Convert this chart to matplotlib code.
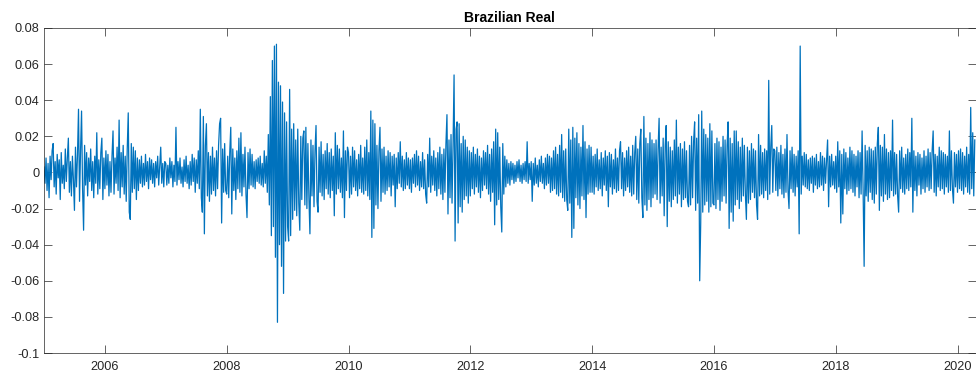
import numpy as np
import matplotlib
matplotlib.use("Agg")
import matplotlib.pyplot as plt

# daily log-returns of BRL, thinned, in thousandths (1 = 0.001)
r2005 = [3, -6, 8, -10, 5, -14, 9, -4, 12, 16, -8, 6, -12, 10, -3, 7, -15, 11, -6, 4,
         -9, 13, -5, 8, 19, -11, 6, -13, 9, -4, -21, 14, -8, 10, 35, -16, 12, 34, -9, -32,
         15, -7, 11, -13, 8, -5, 13, -10, 6, -14, 9, -6, 22, -12, 7, -9, 11, 19, -15, 8]
r2006 = [-9, 12, -7, 10, -13, 6, -11, 9, 23, -12, 8, -6, 14, -10, 29, -14, 11, -8, 15, -12,
         9, -16, 13, 33, -22, -26, 16, -11, 14, -9, 12, -15, 8, -10, 7, -6, 9, -8, 5, -7,
         10, -5, 6, -9, 8, -4, 7, -6, 5, -8, 6, -3, 9, -7, 4, 14, -6, 5, -8, 6]
r2007 = [5, -7, 4, -6, 8, -3, 6, -8, 4, -5, 25, -7, 6, -4, 8, -6, 3, -8, 7, -5,
         9, -6, 4, -9, 6, -7, 10, -5, 8, -11, 7, -6, 12, -9, 35, -14, -22, 31, -34, 15,
         27, -13, 11, -16, 9, -12, 14, -10, 8, -13, 12, -9, 15, 27, 30, -28, 13, -11, 16, -10]
r2008 = [-12, 9, -14, 11, 25, -23, 13, -10, 8, -15, 12, -9, 19, -11, 22, -13, 10, -8, 14, -12,
         -25, 11, -9, 13, -7, 10, -8, 6, -9, 7, -5, 8, -6, 9, -7, 5, -8, 12, -6, 9,
         -11, 21, -18, 42, -35, 62, -30, 70, -47, 71, -83, 50, -40, 48, -52, 39, -67, 33, -38, 28]
r2009 = [-30, -38, 46, -35, 24, -26, 27, -21, 18, -24, 24, -17, -32, 20, -15, 19, 23, -18, 25, -20,
         16, -14, -34, 18, -13, 15, -19, 12, 26, -16, -22, 14, -11, 17, -13, 10, -15, 12, -9, 16,
         -12, 11, -14, 13, -10, 9, -24, 22, -12, 15, -9, 13, -11, 8, -14, 23, -25, 12, -10, 14]
r2010 = [11, -14, 9, -12, 14, -8, 12, -10, 7, -13, 10, -9, 15, -11, 8, -12, 14, -10, 18, -13,
         11, -15, 34, -36, 29, -31, 27, -18, 15, -20, 12, 25, -16, 13, -11, 14, -12, 9, -10, 12,
         -8, 11, -13, 9, -7, 10, -19, 8, -9, 11, -6, 17, -8, 9, -10, 7, -9, 11, -7, 8]
r2011 = [-9, 7, -11, 8, -6, 10, -8, 12, -7, 9, -10, 6, -8, 11, -9, 7, -12, -17, 10, -8,
         19, -11, 9, -7, 12, -10, 8, -13, 11, -9, 14, -12, 10, -15, 13, -11, 16, 32, -23, 18,
         -14, 21, -17, 15, 54, -38, 24, 28, -28, 27, -19, 16, -22, 20, -15, 18, -13, 14, -17, 12]
r2012 = [-13, 11, -9, 14, -12, 10, -8, 13, -11, 9, -14, 8, -10, 12, -7, 11, -9, 15, -12, 10,
         -16, 13, -11, 17, -29, 24, -18, 22, -15, 14, -19, -33, 16, -12, 9, -8, 7, -6, 5, -7,
         6, -4, 5, -6, 4, -5, 6, -3, 7, -5, 4, -6, 5, -4, 6, -5, 17, -6, 5, -4]
r2013 = [6, -16, 5, -7, 8, -6, 4, -8, 7, -5, 9, -6, 5, -9, 8, -7, 10, -6, 9, -11,
         8, -10, 12, -9, 14, -12, 10, -13, 15, -11, 21, -14, 12, -16, 13, -15, -21, 24, -17, 18,
         -36, 25, -31, 19, -14, 22, -18, 16, -20, 14, -13, 26, -15, 17, -25, 13, -12, 15, -11, 14]
r2014 = [-11, 9, -12, 10, -8, 13, -10, 7, -9, 11, -13, 8, -7, 12, -10, 9, -19, 11, -8, 10,
         -12, 7, -9, 13, -11, 8, -10, 12, 17, -9, 11, -13, 8, -10, 12, -8, 14, -11, 9, -13,
         15, -12, 11, 20, -15, 13, -17, 16, 24, -14, -25, 31, -18, 19, -21, 16, -15, 22, -19, 18]
r2015 = [-14, 16, -12, 18, -15, 13, 30, -17, 14, -13, 19, -24, 15, 26, -30, 17, -16, 14, -19, 12,
         -15, 18, -13, 29, -17, 14, -12, 16, -19, 13, -15, 17, -14, 12, -16, -19, 15, -18, 20, -14,
         17, 28, -21, 19, -17, 32, -60, -28, 34, -22, 24, -18, 21, -16, 19, -22, 27, -19, 23, -17]
r2016 = [-18, 16, -20, 19, -15, 17, -21, 14, -16, 20, -13, 18, -17, 15, 28, -31, 19, -22, 16, -27,
         23, -18, 23, -15, 17, -20, 14, -16, 19, -13, 15, -12, -26, 14, -17, 12, -15, 16, -11, 13,
         -14, 12, -18, -26, 21, -13, 15, -12, 11, -14, 13, -10, 12, -15, 51, -12, 14, 26, -11, 13]
r2017 = [12, -10, 14, -13, 11, -9, 15, -12, 10, -14, 13, -11, 21, -10, -20, 12, -9, 14, -11, 10,
         -13, 9, -8, 12, -34, 70, -12, 9, -7, 11, -8, 10, -9, 7, -10, 8, -6, 9, -11, 8,
         -7, 10, -9, 6, -8, 11, -7, 9, -10, 8, -6, 7, 18, -19, 9, -8, 10, -7, 6, -9]
r2018 = [9, -11, 17, -8, 12, -28, 10, -23, 13, -9, 11, -12, 8, -10, 14, -9, 12, -11, 10, -13,
         9, -8, 12, -14, 11, -12, 23, -10, -52, 15, -13, 12, -16, 14, -11, 13, -15, 12, -17, 14,
         -12, 16, 25, -21, 15, -13, 14, -16, 21, -12, 13, -15, 11, -14, 12, -10, 29, -13, 11, -12]
r2019 = [10, -13, -22, 12, -9, 14, -11, 8, -12, 10, -9, 13, -10, 11, -8, 30, -22, 12, -10, 9,
         -13, 11, -7, 10, -12, 8, -9, 12, -11, 9, -8, 13, -10, 11, -9, 12, 23, -11, 10, -13,
         9, -8, 14, -10, 12, -9, 11, -12, 10, -8, 9, -11, 23, -10, 12, -9, -17, 11, -8, 10]
r2020 = [-11, 12, -9, 13, -10, 11, -12, 9, -8, 14, -11, 10, -12, 36, -9, 22, -13, 18]

years = list(range(2005, 2021))
yearly = [r2005, r2006, r2007, r2008, r2009, r2010, r2011, r2012,
          r2013, r2014, r2015, r2016, r2017, r2018, r2019, r2020]

xtick_years = [2006, 2008, 2010, 2012, 2014, 2016, 2018, 2020]
yticks = [-0.1, -0.08, -0.06, -0.04, -0.02, 0, 0.02, 0.04, 0.06, 0.08]
ytick_labels = ['-0.1', '-0.08', '-0.06', '-0.04', '-0.02', '0',
                '0.02', '0.04', '0.06', '0.08']

# 60 samples per year, spaced evenly inside each year
t = np.concatenate([y + np.arange(len(v)) / 60.0 for y, v in zip(years, yearly)])
r = np.concatenate([np.array(v, dtype=float) / 1000.0 for v in yearly])

plt.rcParams['font.family'] = ['Liberation Sans', 'DejaVu Sans']

fig = plt.figure(figsize=(9.76, 3.78), dpi=100)
ax = fig.add_axes([44 / 976, 1 - 353 / 378, 931.5 / 976, 325 / 378])

ax.plot(t, r, color='#0072BD', linewidth=0.9)

ax.set_xlim(t[0], t[-1] + 0.012)
ax.set_ylim(-0.1, 0.08)
ax.set_xticks(xtick_years)
ax.set_xticklabels([str(y) for y in xtick_years])
ax.set_yticks(yticks)
ax.set_yticklabels(ytick_labels)

ax.tick_params(direction='in', length=6, width=0.5, colors='#262626',
               labelsize=9.2, top=True, right=True)
ax.tick_params(axis='x', pad=6)
ax.tick_params(axis='y', pad=3.5)
for s in ax.spines.values():
    s.set_color('#262626')
    s.set_linewidth(0.5)

ax.set_title('Brazilian Real', fontsize=10, fontweight='bold', pad=4)

fig.savefig('out.png', dpi=100)
